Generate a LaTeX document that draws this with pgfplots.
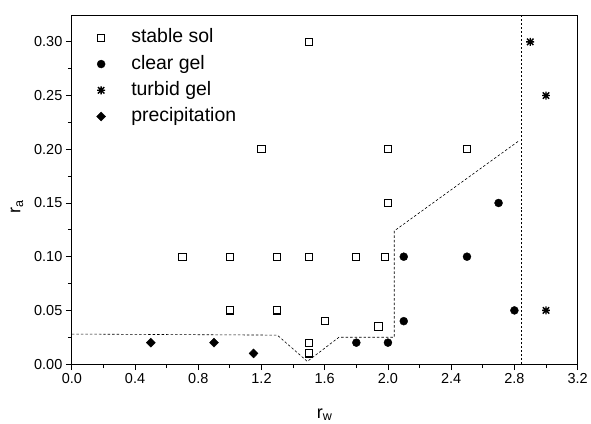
\documentclass[border=0pt]{standalone}
\usepackage{fontspec}
\setmainfont{Liberation Sans}
\usepackage{pgfplots}
\pgfplotsset{compat=1.18}

% eight-spoke asterisk for the turbid gel points
\pgfdeclareplotmark{star8}{%
  \pgfpathmoveto{\pgfqpoint{-\pgfplotmarksize}{0pt}}%
  \pgfpathlineto{\pgfqpoint{\pgfplotmarksize}{0pt}}%
  \pgfpathmoveto{\pgfqpoint{0pt}{-\pgfplotmarksize}}%
  \pgfpathlineto{\pgfqpoint{0pt}{\pgfplotmarksize}}%
  \pgfpathmoveto{\pgfqpoint{-.8\pgfplotmarksize}{-.8\pgfplotmarksize}}%
  \pgfpathlineto{\pgfqpoint{.8\pgfplotmarksize}{.8\pgfplotmarksize}}%
  \pgfpathmoveto{\pgfqpoint{-.8\pgfplotmarksize}{.8\pgfplotmarksize}}%
  \pgfpathlineto{\pgfqpoint{.8\pgfplotmarksize}{-.8\pgfplotmarksize}}%
  \pgfusepathqstroke}

\begin{document}
\begin{tikzpicture}
\begin{axis}[
    name=ax,
    scale only axis,
    width=507pt, height=350pt,
    xmin=0, xmax=3.2,
    ymin=0, ymax=0.325,
    xtick={0,0.4,...,3.2},
    ytick={0,0.05,...,0.30},
    minor x tick num=1,
    minor y tick num=1,
    xtick pos=bottom, ytick pos=left,
    tick align=outside,
    major tick length=6pt, minor tick length=4pt,
    axis line style={line width=0.8pt},
    every tick/.style={line width=0.8pt, black},
    /pgf/number format/assume math mode=true,
    tick label style={font=\fontsize{14.5}{16}\selectfont},
    xticklabel style={/pgf/number format/.cd, fixed, fixed zerofill, precision=1},
    yticklabel style={/pgf/number format/.cd, fixed, fixed zerofill, precision=2},
    every axis x label/.style={at={(rel axis cs:0.5,0)}, yshift=-54pt, anchor=base},
    every axis y label/.style={at={(rel axis cs:0,0.45)}, xshift=-55pt, rotate=90, anchor=center},
    xlabel={\fontsize{18}{20}\selectfont r\textsubscript{w}},
    ylabel={\fontsize{18}{20}\selectfont r\textsubscript{a}},
    legend image code/.code={%
        \path (0pt,0pt) (36pt,0pt);
        \draw[mark repeat=2, mark phase=2, #1] plot coordinates {(0pt,0pt)(8pt,0pt)(16pt,0pt)};},
    legend style={draw=none, fill=none, inner sep=0pt,
        at={(rel axis cs:0.0414,0.968)}, anchor=north west,
        font=\fontsize{19.5}{21}\selectfont, row sep=3.3pt,
        nodes={inner sep=2pt, text height=14.5pt, text depth=4.5pt}},
    legend cell align=left,
]

\addplot[only marks, mark=square, mark size=3.6pt, mark options={line width=1.1pt}]
    coordinates {
    (0.7,0.10)(1.0,0.10)(1.3,0.10)(1.5,0.10)(1.8,0.10)(1.98,0.10)
    (1.0,0.05)(1.3,0.05)(1.6,0.04)(1.5,0.02)(1.5,0.01)(1.94,0.035)
    (2.0,0.15)(2.0,0.20)(1.2,0.20)(2.5,0.20)(1.5,0.30)
    };
\addlegendentry{stable sol}

\addplot[only marks, mark=*, mark size=4pt]
    coordinates {
    (1.8,0.02)(2.0,0.02)(2.1,0.10)(2.1,0.04)(2.5,0.10)(2.7,0.15)(2.8,0.05)
    };
\addlegendentry{clear gel}

\addplot[only marks, mark=star8, mark size=4pt, mark options={line width=1.4pt}]
    coordinates {
    (2.9,0.30)(3.0,0.25)(3.0,0.05)
    };
\addlegendentry{turbid gel}

\addplot[only marks, mark=diamond*, mark size=4.5pt, mark options={xscale=1.33}]
    coordinates {
    (0.5,0.02)(0.9,0.02)(1.15,0.01)
    };
\addlegendentry{precipitation}

% phase boundaries
\addplot[forget plot, line width=0.6pt, dash pattern=on 2.5pt off 2pt]
    coordinates {
    (0,0.028)(1.3,0.027)(1.49,0.0025)(1.69,0.025)(2.04,0.025)(2.04,0.124)(2.83,0.208)
    };
\addplot[forget plot, line width=0.5pt, dash pattern=on 2pt off 2pt]
    coordinates {
    (2.843,0)(2.843,0.325)
    };

\end{axis}
\path (ax.north west) ++(-72pt,15pt);
\path (ax.south east) ++(12pt,-58pt);
\end{tikzpicture}
\end{document}
